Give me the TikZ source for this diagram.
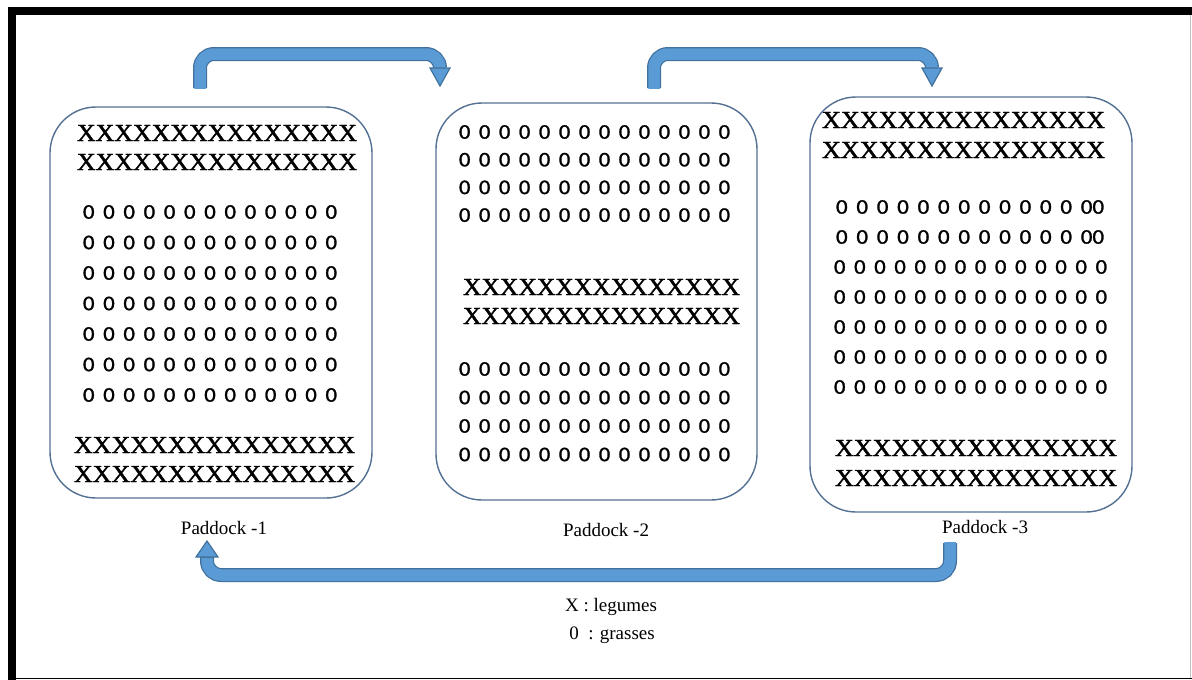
\documentclass[tikz,border=0pt]{standalone}
\usepackage{fontspec}
\usepackage{graphicx}
\usetikzlibrary{calc}
\setmainfont{Liberation Serif}
\newfontfamily\calib[FakeBold=1.2]{Carlito}
\newfontfamily\xfont[FakeBold=1.6]{Liberation Serif}
\definecolor{boxline}{RGB}{84,112,146}
\definecolor{arrfill}{RGB}{91,155,213}
\definecolor{arrline}{RGB}{65,113,156}
\newcommand{\xrow}[1]{\resizebox{#1pt}{16pt}{\xfont XXXXXXXXXXXXXXX}}
\newcommand{\zrow}[2]{\resizebox{#1pt}{13.5pt}{\calib\spaceskip=0.38em\relax #2}}
\newcommand{\zt}{0 0 0 0 0 0 0 0 0 0 0 0 0}
\newcommand{\zf}{0 0 0 0 0 0 0 0 0 0 0 0 0 0}
\newcommand{\zd}{0 0 0 0 0 0 0 0 0 0 0 0 00}
\begin{document}
\begin{tikzpicture}[x=1pt,y=-1pt,
  paddock/.style={draw=boxline, line width=1.4pt, rounded corners=46pt, inner sep=0pt},
  txtrow/.style={anchor=west, inner sep=0pt, outer sep=0pt},
  lab/.style={inner sep=0pt, font=\fontsize{19}{22}\selectfont},
  bandout/.style={draw=arrline, line width=14pt, rounded corners=14pt},
  bandin/.style={draw=arrfill, line width=11.5pt, rounded corners=14pt},
  head/.style={fill=arrfill, draw=arrline, line width=1.2pt, line join=miter}]
\useasboundingbox (0,0) rectangle (1192,680);
% frame
\fill[black] (8,7) rectangle (1192,15);
\fill[black] (8,7) rectangle (16,680);
\draw[black, line width=1.5pt] (8,678.5) -- (1192,678.5);
\draw[black!25, line width=1pt] (1190.5,15) -- (1190.5,678);
% paddocks
\node[paddock, minimum width=322pt, minimum height=391pt] (p1) at (211,302.5) {};
\node[paddock, minimum width=321pt, minimum height=397pt] (p2) at (596.5,301.5) {};
\node[paddock, minimum width=322pt, minimum height=415pt] (p3) at (971,304.5) {};
% paddock 1 contents
\node[txtrow] (p1x1) at (77,133) {\xrow{280}};
\node[txtrow] (p1x2) at (77,162) {\xrow{280}};
\foreach \i in {0,...,6} \node[txtrow] (p1z\i) at (83,212+30.5*\i) {\zrow{254}{\zt}};
\node[txtrow] (p1x3) at (74,445) {\xrow{281}};
\node[txtrow] (p1x4) at (74,474) {\xrow{281}};
% paddock 2 contents
\foreach \i in {0,...,3} \node[txtrow] (p2a\i) at (459,132+27.7*\i) {\zrow{271}{\zf}};
\node[txtrow] (p2x1) at (463,287) {\xrow{277}};
\node[txtrow] (p2x2) at (463,316) {\xrow{277}};
\foreach \i in {0,...,3} \node[txtrow] (p2b\i) at (459,369+28.5*\i) {\zrow{271}{\zf}};
% paddock 3 contents
\node[txtrow] (p3x1) at (822,120) {\xrow{283}};
\node[txtrow] (p3x2) at (822,150) {\xrow{283}};
\foreach \i in {0,1} \node[txtrow] (p3d\i) at (836,207+30*\i) {\zrow{268}{\zd}};
\foreach \i in {2,...,6} \node[txtrow] (p3z\i) at (834,207+30*\i) {\zrow{273}{\zf}};
\node[txtrow] (p3x3) at (835,448) {\xrow{282}};
\node[txtrow] (p3x4) at (835,478) {\xrow{282}};
% labels
\node[lab] (l1) at (224,528) {Paddock -1};
\node[lab] (l2) at (606,530) {Paddock -2};
\node[lab] (l3) at (985,527) {Paddock -3};
\node[lab] (leg1) at (611,607) {X : legumes};
\node[lab] (leg2) at (612,635) {0\ \ : grasses};
% arrows
\coordinate (a1s) at (200,88);
\coordinate (a1e) at (440,68);
\coordinate (a2s) at (654,88);
\coordinate (a2e) at (932,68);
\coordinate (a3s) at (950,543);
\coordinate (a3e) at (207,557);
\draw[bandout] (a1s) -- (a1s |- 0,54) -- (a1e |- 0,54) -- (a1e);
\draw[bandin] ([yshift=-0.8pt]a1s) -- (a1s |- 0,54) -- (a1e |- 0,54) -- ([yshift=1pt]a1e);
\draw[head] ($(a1e)+(-10,0)$) -- ($(a1e)+(10,0)$) -- ($(a1e)+(0,18)$) -- cycle;
\draw[bandout] (a2s) -- (a2s |- 0,54) -- (a2e |- 0,54) -- (a2e);
\draw[bandin] ([yshift=-0.8pt]a2s) -- (a2s |- 0,54) -- (a2e |- 0,54) -- ([yshift=1pt]a2e);
\draw[head] ($(a2e)+(-10,0)$) -- ($(a2e)+(10,0)$) -- ($(a2e)+(0,18)$) -- cycle;
\draw[bandout] (a3s) -- (a3s |- 0,575) -- (a3e |- 0,575) -- (a3e);
\draw[bandin] ([yshift=0.8pt]a3s) -- (a3s |- 0,575) -- (a3e |- 0,575) -- ([yshift=-1pt]a3e);
\draw[head] ($(a3e)+(-11,0)$) -- ($(a3e)+(11,0)$) -- ($(a3e)+(0,-16)$) -- cycle;
\end{tikzpicture}
\end{document}
